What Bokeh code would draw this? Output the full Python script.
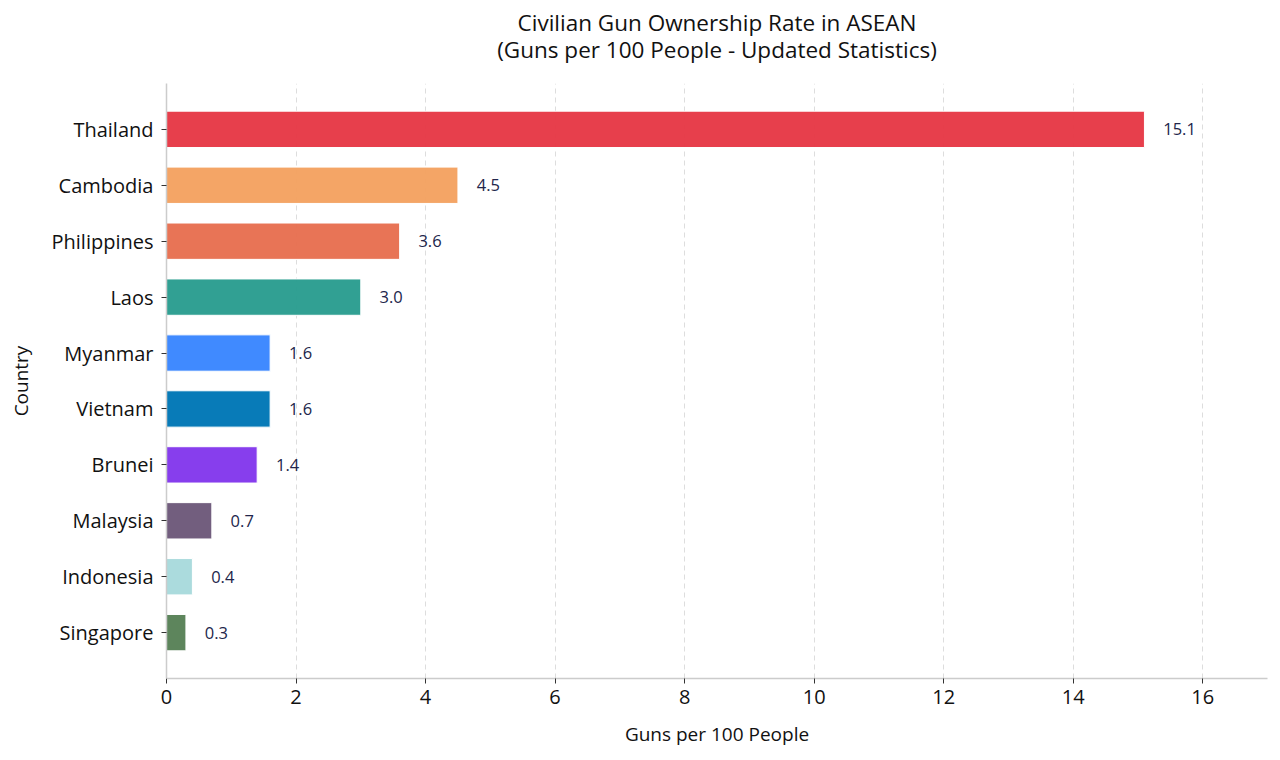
from bokeh.plotting import figure
from bokeh.models import ColumnDataSource, FactorRange, Range1d, SingleIntervalTicker, Title
from bokeh.embed import file_html
from bokeh.resources import INLINE
from bokeh.core.properties import value

countries = ["Thailand", "Cambodia", "Philippines", "Laos", "Myanmar",
             "Vietnam", "Brunei", "Malaysia", "Indonesia", "Singapore"]
rates = [15.1, 4.5, 3.6, 3.0, 1.6, 1.6, 1.4, 0.7, 0.4, 0.3]
colors = ["#E63946", "#F4A261", "#E76F51", "#2A9D8F", "#3A86FF",
          "#0077B6", "#8338EC", "#6D597A", "#A8DADC", "#588157"]
labels = [f"{v:.1f}" for v in rates]
title_lines = ["Civilian Gun Ownership Rate in ASEAN",
               "(Guns per 100 People - Updated Statistics)"]

FONT = "Open Sans"

src = ColumnDataSource(dict(country=countries, rate=rates, color=colors,
                            label=labels, lx=[v + 0.29 for v in rates]))

p = figure(width=1272, height=752, output_backend="svg", toolbar_location=None,
           y_range=FactorRange(factors=list(reversed(countries)),
                               range_padding=0.32, range_padding_units="absolute"),
           x_range=Range1d(0, 17),
           min_border_left=166, min_border_right=5, min_border_top=83, min_border_bottom=74)

p.hbar(y="country", right="rate", left=0, height=0.65, source=src,
       fill_color="color", fill_alpha=0.97, line_color="white", line_width=1)

p.text(x="lx", y="country", text="label", source=src,
       text_font=value(FONT), text_font_size="16.5px", text_color="#22264b",
       text_align="left", text_baseline="middle")

p.title = None
t2 = Title(text=title_lines[1], align="center", text_font=FONT, text_font_size="22.5px",
           text_font_style="normal", text_color="#111111", standoff=37)
t1 = Title(text=title_lines[0], align="center", text_font=FONT, text_font_size="22.5px",
           text_font_style="normal", text_color="#111111", standoff=-49)
p.add_layout(t2, "above")
p.add_layout(t1, "above")

p.xaxis.ticker = SingleIntervalTicker(interval=2)
p.xaxis.axis_label = "Guns per 100 People"
p.yaxis.axis_label = "Country"
for ax in (p.xaxis, p.yaxis):
    ax.axis_label_text_font = FONT
    ax.axis_label_text_font_size = "19px"
    ax.axis_label_text_font_style = "normal"
    ax.axis_label_text_color = "#111111"
    ax.major_label_text_font = FONT
    ax.major_label_text_font_size = "20px"
    ax.major_label_text_color = "#111111"
    ax.axis_line_color = "#cccccc"
    ax.axis_line_width = 1.5
    ax.major_tick_line_color = "#333333"
    ax.major_tick_out = 5
    ax.major_tick_in = 0
    ax.minor_tick_line_color = None
p.xaxis.major_label_standoff = 6
p.yaxis.major_label_standoff = 8
p.xaxis.axis_label_standoff = 14
p.yaxis.axis_label_standoff = 15

p.ygrid.grid_line_color = None
p.xgrid.grid_line_color = "#dddddd"
p.xgrid.grid_line_dash = "5 4"
p.xgrid.grid_line_width = 1
p.outline_line_color = None

open("out.html", "w").write(file_html(p, INLINE))
